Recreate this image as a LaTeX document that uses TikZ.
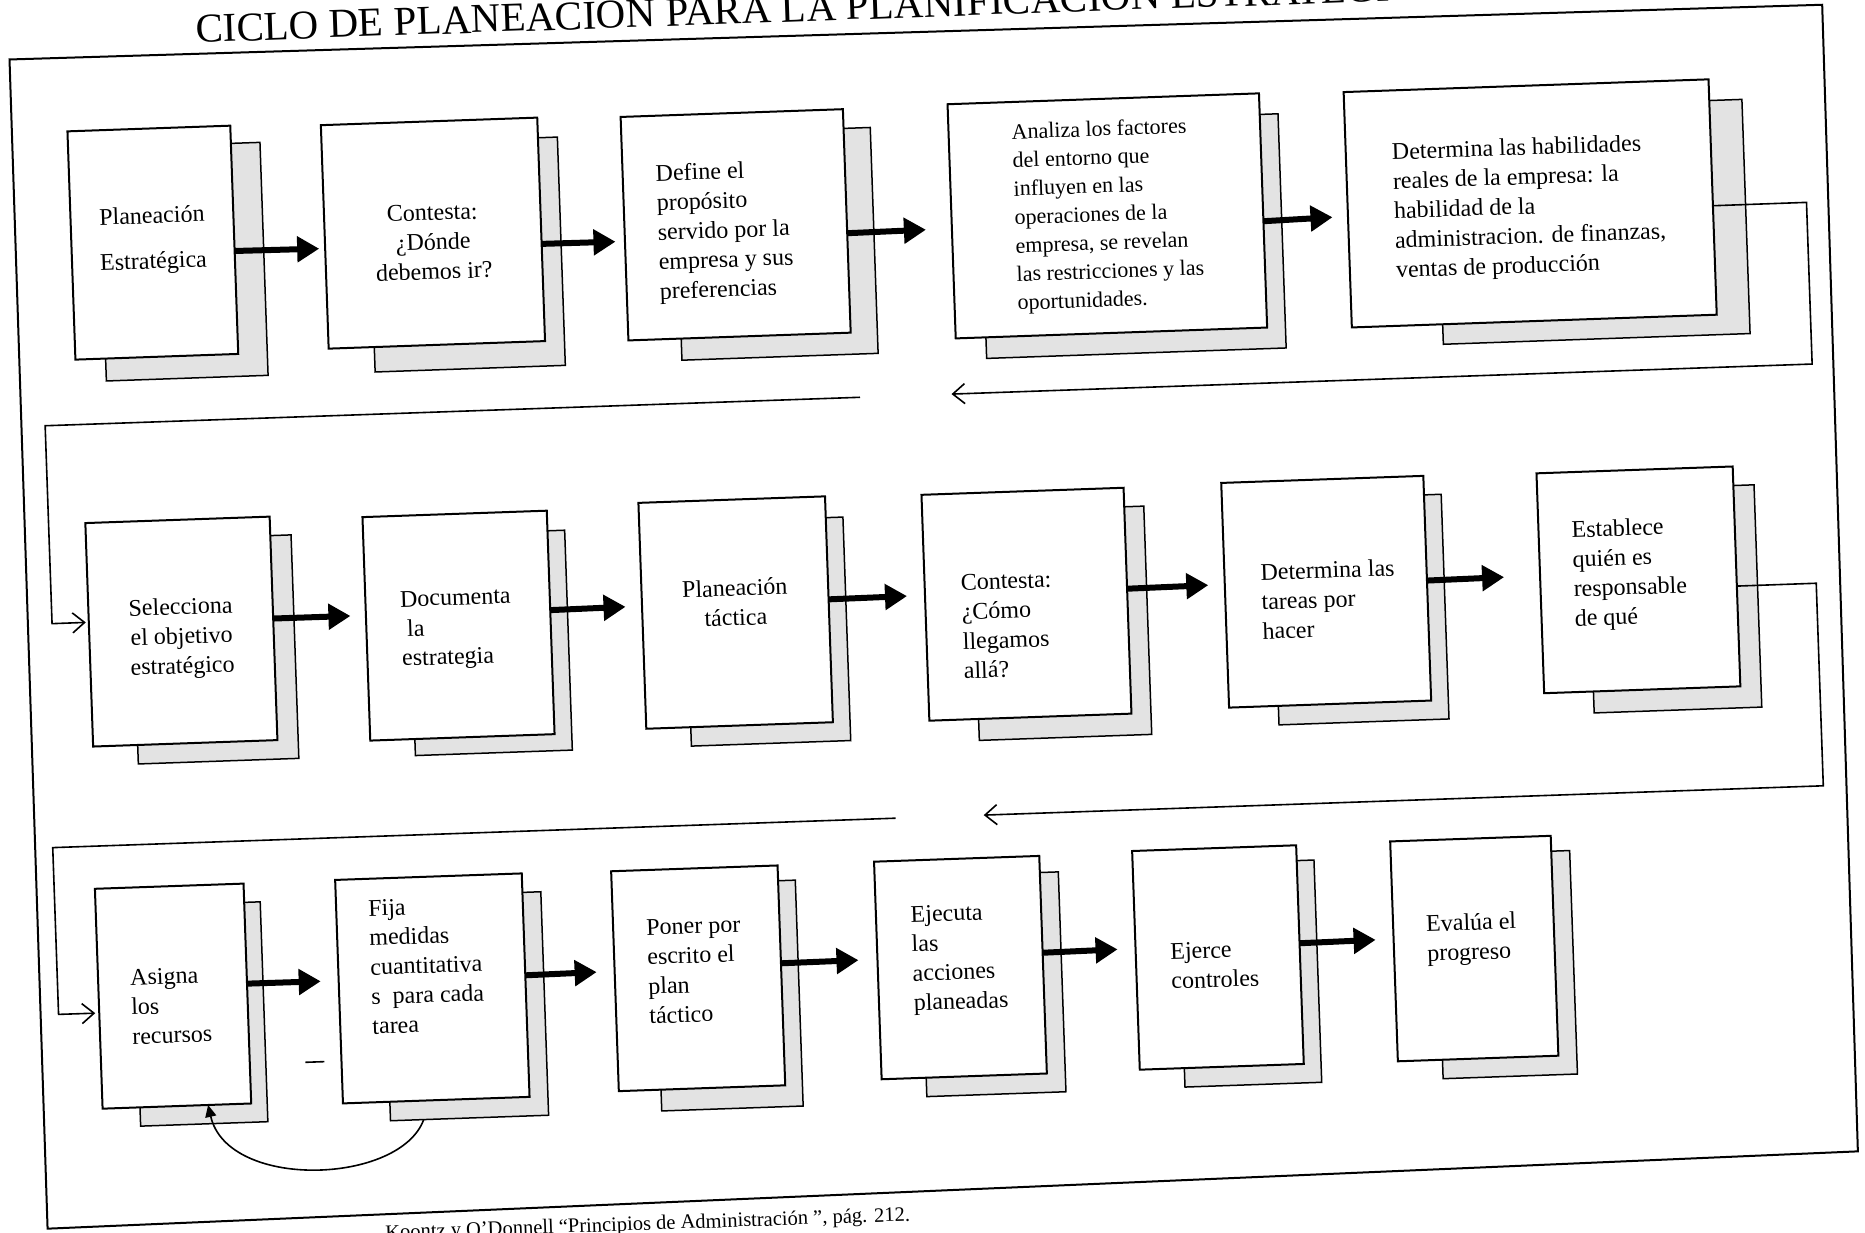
\documentclass[tikz,border=0pt]{standalone}
\usepackage{fontspec}
\setmainfont{Liberation Serif}
\usetikzlibrary{calc,arrows.meta}
\pgfkeys{/ucs/.cd,x/.store in=\ucsx,y/.store in=\ucsy}
\tikzdeclarecoordinatesystem{u}{%
  \pgfkeys{/ucs/.cd,#1}%
  \pgfmathsetmacro\ucsX{784+0.99939*(\ucsx-784)-0.034899*(\ucsy-518)}%
  \pgfmathsetmacro\ucsY{518+0.034899*(\ucsx-784)+0.99939*(\ucsy-518)}%
  \pgfpointxy{\ucsX}{\ucsY}%
}
% name, cx, cy, w, h, scx, scy, sw, sh
\newcommand\mkbox[9]{%
  \node[shadowbox, minimum width=#8pt, minimum height=#9pt] (s#1) at (u cs:x=#6,y=#7) {};
  \node[frontbox, minimum width=#4pt, minimum height=#5pt] (b#1) at (u cs:x=#2,y=#3) {};
}
\begin{document}
\begin{tikzpicture}[
  frontbox/.style={draw, line width=2pt, fill=white, inner sep=0pt, outer sep=0pt, transform shape},
  shadowbox/.style={draw, line width=1.5pt, fill=black!11, inner sep=0pt, outer sep=0pt, transform shape},
  txt/.style={inner sep=0pt, transform shape, font=\fontsize{24pt}{29.5pt}\selectfont},
  fat/.style={line width=6pt, -{Triangle[length=22pt,width=25pt]}},
  wire/.style={line width=1.6pt},
  wirehead/.style={line width=1.6pt, -{Straight Barb[length=12pt,width=20pt]}},
]
\fill[white] (0pt,0pt) rectangle (1865pt,-1232pt);
\useasboundingbox (0pt,0pt) rectangle (1865pt,-1232pt);
\clip (0pt,0pt) rectangle (1865pt,-1232pt);
\begin{scope}[x=1.1894pt, y=-1.1894pt, rotate around={2:(784,518)}]
% frame
\draw[line width=2pt] (u cs:x=8,y=50) -- (u cs:x=1532,y=4) -- (u cs:x=1562,y=968) -- (u cs:x=40,y=1033) -- cycle;
% title and source
\node[transform shape, anchor=base west, inner sep=0pt, font=\fontsize{41pt}{48pt}\selectfont] (title) at (182,14.5) {CICLO DE PLANEACION PARA LA PLANIFICACION ESTRATEGICA};
\node[transform shape, inner sep=0pt, anchor=base west, font=\fontsize{20.5pt}{24pt}\selectfont] (src) at (306,1025.5) {Koontz y O'Donnell “Principios de Administración ”, pág. 212.};
% boxes
\mkbox{1}{128.5}{204}{162.9}{228.4}{154}{220}{161.8}{233.1}
\mkbox{2}{364}{196}{216.5}{223.6}{392}{214}{190.3}{228.4}
\mkbox{3}{618.5}{189}{222.4}{223.6}{652.5}{205}{196.3}{226.0}
\mkbox{4}{931}{181.5}{311.6}{234.3}{952}{198.5}{299.7}{234.3}
\mkbox{5}{1286.5}{171}{365.1}{235.5}{1339}{186.5}{306.9}{234.3}
\mkbox{6}{152.5}{531}{184.4}{223.6}{180.5}{546}{160.6}{223.6}
\mkbox{7}{385.5}{526}{184.4}{223.6}{412}{540.5}{157.0}{220.0}
\mkbox{8}{618.5}{515}{186.7}{226.0}{645}{531}{159.4}{223.6}
\mkbox{9}{863}{508}{202.2}{226.0}{892.5}{524}{172.5}{228.4}
\mkbox{10}{1115}{497.5}{202.2}{224.8}{1143.5}{512.5}{170.1}{224.8}
\mkbox{11}{1377.5}{487.5}{196.3}{220.0}{1407.5}{503.5}{167.7}{222.4}
\mkbox{12}{145.5}{837.5}{148.7}{220.0}{168.5}{852.5}{127.3}{220.0}
\mkbox{13}{363.5}{831}{186.7}{223.6}{391.5}{846}{158.2}{223.6}
\mkbox{14}{587}{822.5}{166.5}{220.0}{612.5}{837}{141.5}{226.0}
\mkbox{15}{807.5}{813.5}{165.3}{217.7}{834.5}{827.5}{139.2}{220.0}
\mkbox{16}{1024}{805}{164.1}{218.8}{1050.5}{818.5}{136.8}{222.4}
\mkbox{17}{1239.5}{797.5}{160.6}{220.0}{1266.5}{811}{134.4}{223.6}
% texts
\node[txt, align=center] (t1) at ($(b1.north)!0.49!(b1.south)$) {Planeación\\[16pt]Estratégica};
\node[txt, align=center] (t2) at ($(b2.north)!0.54!(b2.south)$) {Contesta:\\¿Dónde\\debemos ir?};
\node[txt, align=left, anchor=west] (t3) at ($($(b3.north west)!0.53!(b3.south west)$)!0.148!($(b3.north east)!0.53!(b3.south east)$)$) {Define el\\propósito\\servido por la\\empresa y sus\\preferencias};
\node[txt, align=left, anchor=west, font=\fontsize{22pt}{28.5pt}\selectfont] (t4) at ($($(b4.north west)!0.50!(b4.south west)$)!0.202!($(b4.north east)!0.50!(b4.south east)$)$) {Analiza los factores\\del entorno que\\influyen en las\\operaciones de la\\empresa, se revelan\\las restricciones y las\\oportunidades.};
\node[txt, align=left, anchor=west] (t5) at ($($(b5.north west)!0.52!(b5.south west)$)!0.126!($(b5.north east)!0.52!(b5.south east)$)$) {Determina las habilidades\\reales de la empresa: la\\habilidad de la\\administracion. de finanzas,\\ventas de producción};
\node[txt, align=center] (t6) at ($(b6.north)!0.53!(b6.south)$) {Selecciona\\el objetivo\\estratégico};
\node[txt, align=left, anchor=west] (t7) at ($($(b7.north west)!0.516!(b7.south west)$)!0.187!($(b7.north east)!0.516!(b7.south east)$)$) {Documenta\\\hspace{6pt}la\\estrategia};
\node[txt, align=center] (t8) at ($(b8.north)!0.455!(b8.south)$) {Planeación\\táctica};
\node[txt, align=left, anchor=west] (t9) at ($($(b9.north west)!0.59!(b9.south west)$)!0.178!($(b9.north east)!0.59!(b9.south east)$)$) {Contesta:\\¿Cómo\\llegamos\\allá?};
\node[txt, align=left, anchor=west] (t10) at ($($(b10.north west)!0.534!(b10.south west)$)!0.178!($(b10.north east)!0.534!(b10.south east)$)$) {Determina las\\tareas por\\hacer};
\node[txt, align=left, anchor=west] (t11) at ($($(b11.north west)!0.473!(b11.south west)$)!0.168!($(b11.north east)!0.473!(b11.south east)$)$) {Establece\\quién es\\responsable\\de qué};
\node[txt, align=left, anchor=west] (t12) at ($($(b12.north west)!0.543!(b12.south west)$)!0.215!($(b12.north east)!0.543!(b12.south east)$)$) {Asigna\\los\\recursos};
\node[txt, align=left, anchor=west] (t13) at ($($(b13.north west)!0.396!(b13.south west)$)!0.171!($(b13.north east)!0.396!(b13.south east)$)$) {Fija\\medidas\\cuantitativa\\s\ \ para cada\\tarea};
\node[txt, align=left, anchor=west] (t14) at ($($(b14.north west)!0.462!(b14.south west)$)!0.198!($(b14.north east)!0.462!(b14.south east)$)$) {Poner por\\escrito el\\plan\\táctico};
\node[txt, align=left, anchor=west] (t15) at ($($(b15.north west)!0.462!(b15.south west)$)!0.209!($(b15.north east)!0.462!(b15.south east)$)$) {Ejecuta\\las\\acciones\\planeadas};
\node[txt, align=left, anchor=west] (t16) at ($($(b16.north west)!0.533!(b16.south west)$)!0.21!($(b16.north east)!0.533!(b16.south east)$)$) {Ejerce\\controles};
\node[txt, align=left, anchor=west] (t17) at ($($(b17.north west)!0.457!(b17.south west)$)!0.205!($(b17.north east)!0.457!(b17.south east)$)$) {Evalúa el\\progreso};
% thick arrows
\draw[fat, shorten >=6pt] ($(b1.north east)!0.549!(b1.south east)$) -- ($(b2.north west)!0.552!(b2.south west)$);
\draw[fat, shorten >=9.5pt] ($(b2.north east)!0.565!(b2.south east)$) -- ($(b3.north west)!0.557!(b3.south west)$);
\draw[fat, shorten >=26pt] ($(b3.north east)!0.555!(b3.south east)$) -- ($(b4.north west)!0.531!(b4.south west)$);
\draw[fat, shorten >=15.5pt] ($(b4.north east)!0.546!(b4.south east)$) -- ($(b5.north west)!0.528!(b5.south west)$);
\draw[fat, shorten >=15.5pt] ($(b6.north east)!0.456!(b6.south east)$) -- ($(b7.north west)!0.44!(b7.south west)$);
\draw[fat, shorten >=16.5pt] ($(b7.north east)!0.445!(b7.south east)$) -- ($(b8.north west)!0.457!(b8.south west)$);
\draw[fat, shorten >=18pt] ($(b8.north east)!0.456!(b8.south east)$) -- ($(b9.north west)!0.445!(b9.south west)$);
\draw[fat, shorten >=16.5pt] ($(b9.north east)!0.447!(b9.south east)$) -- ($(b10.north west)!0.452!(b10.south west)$);
\draw[fat, shorten >=36pt] ($(b10.north east)!0.466!(b10.south east)$) -- ($(b11.north west)!0.465!(b11.south west)$);
\draw[fat, shorten >=18pt] ($(b12.north east)!0.455!(b12.south east)$) -- ($(b13.north west)!0.451!(b13.south west)$);
\draw[fat, shorten >=18pt] ($(b13.north east)!0.456!(b13.south east)$) -- ($(b14.north west)!0.455!(b14.south west)$);
\draw[fat, shorten >=19pt] ($(b14.north east)!0.445!(b14.south east)$) -- ($(b15.north west)!0.449!(b15.south west)$);
\draw[fat, shorten >=18pt] ($(b15.north east)!0.445!(b15.south east)$) -- ($(b16.north west)!0.446!(b16.south west)$);
\draw[fat, shorten >=18pt] ($(b16.north east)!0.448!(b16.south east)$) -- ($(b17.north west)!0.444!(b17.south west)$);
% wrap connectors
\coordinate (c1tip) at (806.5,332);
\coordinate (c1tail) at (729.5,332);
\draw[wirehead] ($(b5.north east)!0.537!(b5.south east)$) -- (1530.5,196) -- (1530.5,332) -- (c1tip);
\draw[wirehead, shorten >=3pt] (c1tail) -- (44,332) -- (44,498.5) -- ($(b6.north west)!0.444!(b6.south west)$);
\coordinate (c2tip) at (821.2,686.7);
\coordinate (c2tail) at (747,686.7);
\draw[wirehead] ($(b11.north east)!0.544!(b11.south east)$) -- (1527.5,516.3) -- (1527.5,686.7) -- (c2tip);
\draw[wirehead, shorten >=4pt] (c2tail) -- (38,686.7) -- (38,827) -- ($(b12.north west)!0.565!(b12.south west)$);
% feedback curve
\draw[line width=1.6pt, -{Triangle[length=12pt,width=11pt]}] ($(s13.south west)!0.21!(s13.south east)$) .. controls (320,980) and (175,980) .. ($(b12.south west)!0.71!(b12.south east)$);
\draw[line width=1.6pt] (244,874.5) -- (260,874.5);
\end{scope}
\end{tikzpicture}
\end{document}
